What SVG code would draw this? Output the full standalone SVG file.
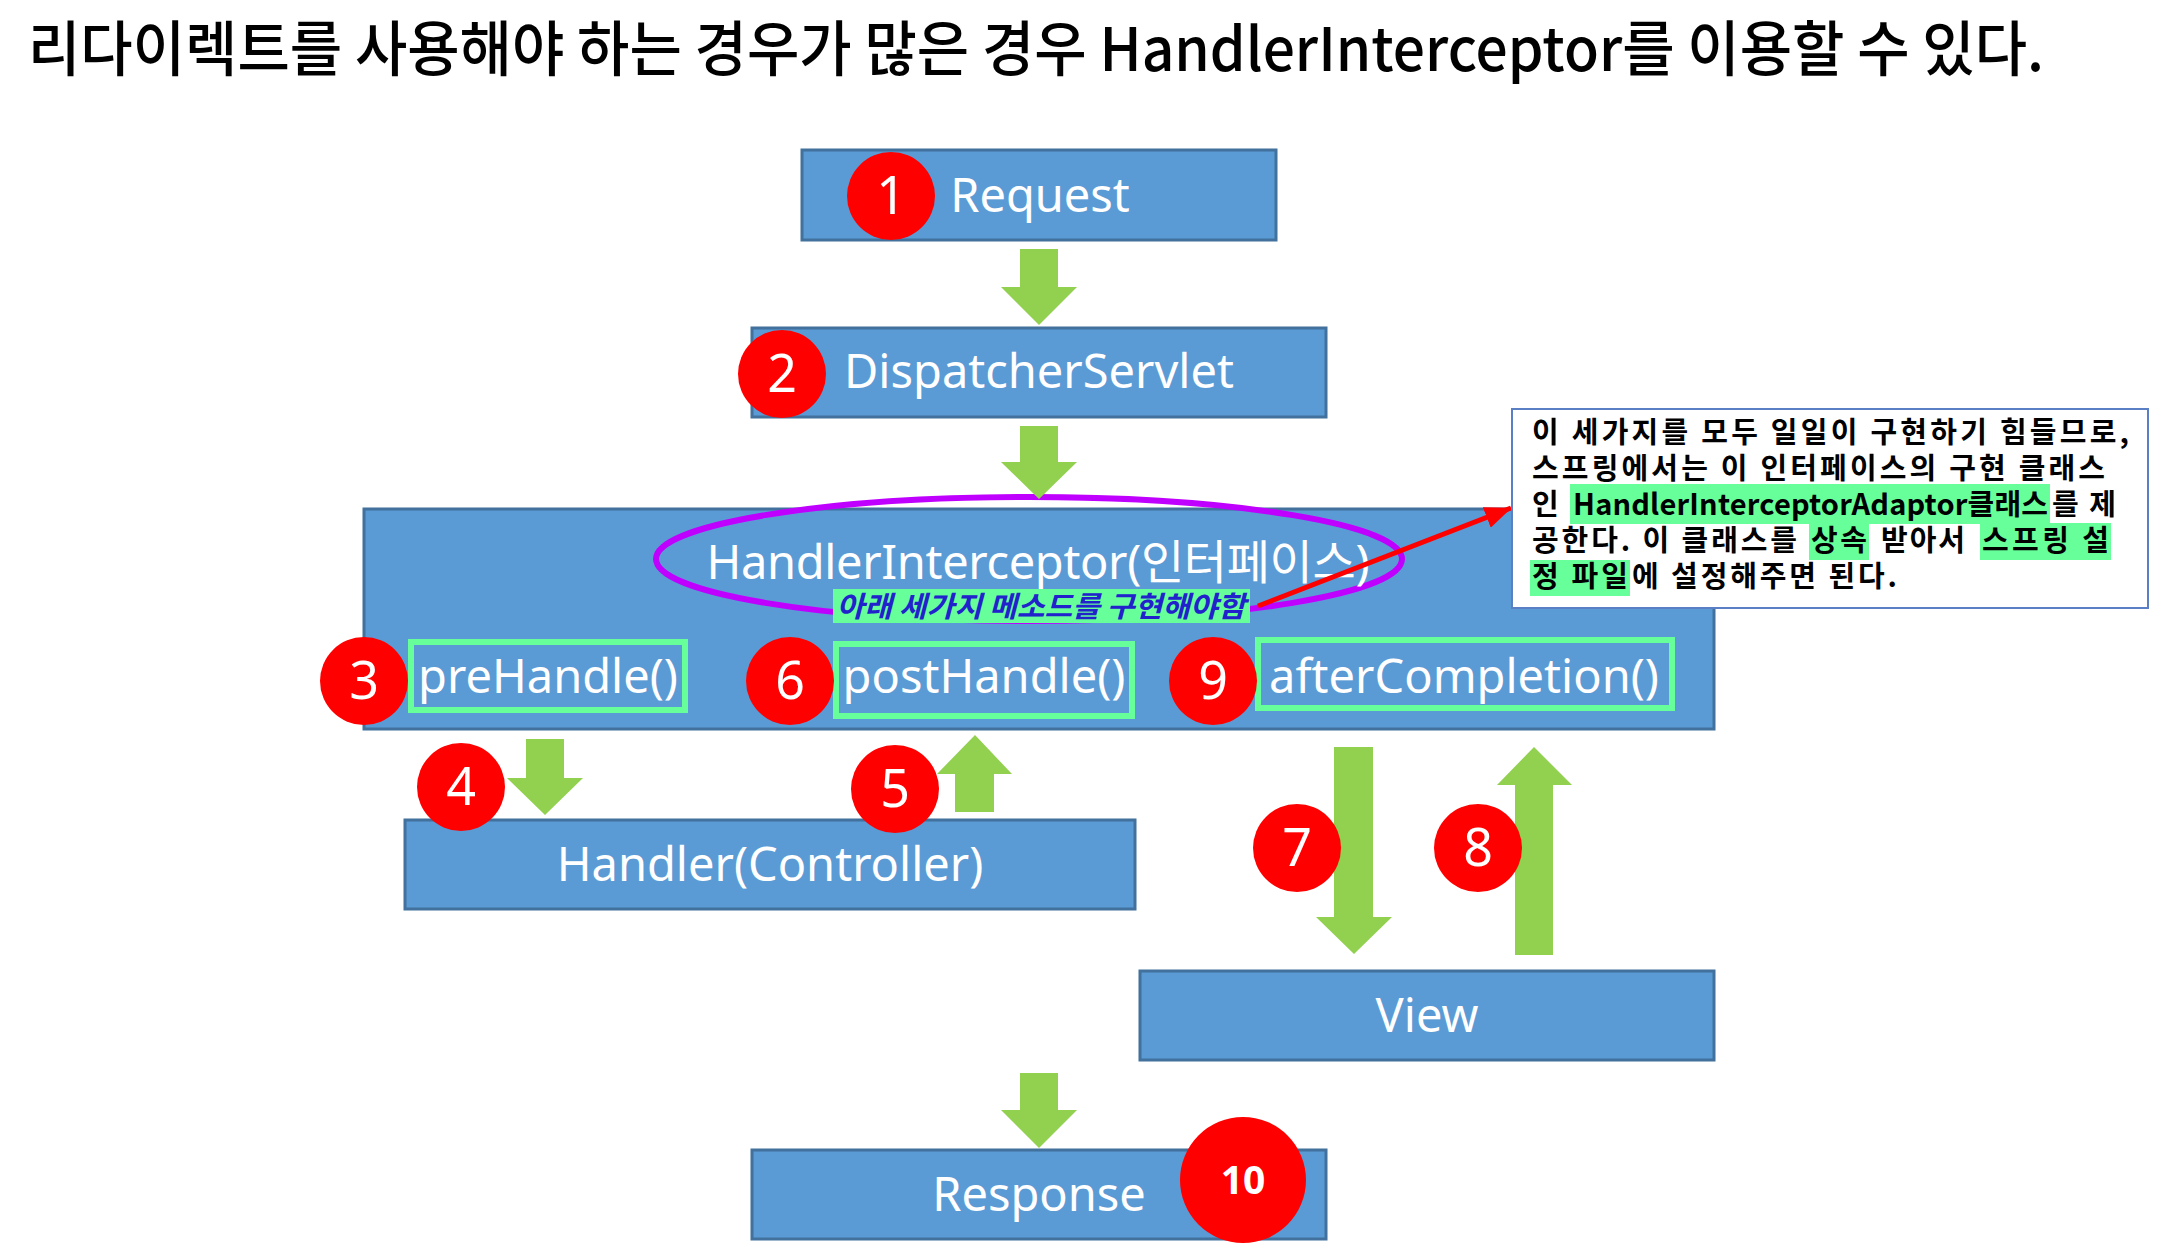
<svg xmlns="http://www.w3.org/2000/svg" width="2166" height="1255" viewBox="0 0 2166 1255">
<defs>
<style>
.box{fill:#5b9bd5;stroke:#41719c;stroke-width:3}
.lbl{fill:#fff;font-family:"Noto Sans","Noto Sans CJK KR",sans-serif;font-size:47px;text-anchor:middle}
.mbox{fill:none;stroke:#66ff99;stroke-width:6}
.badge{fill:#ff0000}
.num{fill:#fff;font-family:"Noto Sans",sans-serif;font-size:52px;text-anchor:middle}
.garrow{fill:#92d050}
.note{font-family:"Noto Sans CJK KR","Noto Sans",sans-serif;font-size:29px;font-weight:bold;fill:#000}
.hl{fill:#66ff99}
</style>
<marker id="redhead" markerWidth="28" markerHeight="22" refX="26" refY="11" orient="auto" markerUnits="userSpaceOnUse">
<path d="M0,0 L27,11 L0,22 z" fill="#ff0000"/>
</marker>
</defs>
<rect width="2166" height="1255" fill="#fff"/>

<text x="28" y="71" font-family="'Noto Sans CJK KR','Noto Sans',sans-serif" font-size="60" font-weight="500" fill="#000" textLength="2016" lengthAdjust="spacingAndGlyphs">리다이렉트를 사용해야 하는 경우가 많은 경우 HandlerInterceptor를 이용할 수 있다.</text>

<g id="request">
<rect class="box" x="802" y="150" width="474" height="90"/>
<text class="lbl" x="1040" y="212">Request</text>
</g>
<g id="dispatcher">
<rect class="box" x="752" y="328" width="574" height="89"/>
<text class="lbl" x="1039" y="388">DispatcherServlet</text>
</g>
<g id="interceptor">
<rect class="box" x="364" y="509" width="1350" height="220"/>
<ellipse cx="1029" cy="559" rx="373" ry="62" fill="none" stroke="#c000ff" stroke-width="6"/>
<text class="lbl" x="1038" y="579" textLength="663">HandlerInterceptor(인터페이스)</text>
<rect class="hl" x="833" y="589" width="417" height="34"/>
<text x="1041" y="617" text-anchor="middle" font-family="'Noto Sans CJK KR',sans-serif" font-size="29" font-weight="bold" font-style="italic" fill="#2222cc" textLength="409" lengthAdjust="spacingAndGlyphs">아래 세가지 메소드를 구현해야함</text>
</g>
<g id="prehandle">
<rect class="mbox" x="411" y="642" width="274" height="68"/>
<text class="lbl" x="548" y="693">preHandle()</text>
</g>
<g id="posthandle">
<rect class="mbox" x="836" y="644" width="296" height="72"/>
<text class="lbl" x="984" y="693">postHandle()</text>
</g>
<g id="aftercompletion">
<rect class="mbox" x="1258" y="640" width="414" height="68"/>
<text class="lbl" x="1464" y="693">afterCompletion()</text>
</g>
<g id="handler">
<rect class="box" x="405" y="820" width="730" height="89"/>
<text class="lbl" x="770" y="881">Handler(Controller)</text>
</g>
<g id="view">
<rect class="box" x="1140" y="971" width="574" height="89"/>
<text class="lbl" x="1427" y="1032">View</text>
</g>
<g id="response">
<rect class="box" x="752" y="1150" width="574" height="89"/>
<text class="lbl" x="1039" y="1211">Response</text>
</g>

<g id="connectors">
<polygon class="garrow" points="1020,249 1058,249 1058,287 1077,287 1039,325 1001,287 1020,287"/>
<polygon class="garrow" points="1020,426 1058,426 1058,462 1077,462 1039,499 1001,462 1020,462"/>
<polygon class="garrow" points="526,739 564,739 564,778 583,778 545,815 507,778 526,778"/>
<polygon class="garrow" points="955,812 994,812 994,774 1012,774 975,735 937,774 955,774"/>
<polygon class="garrow" points="1334,747 1373,747 1373,917 1392,917 1354,954 1316,917 1334,917"/>
<polygon class="garrow" points="1515,955 1553,955 1553,785 1572,785 1534,747 1497,785 1515,785"/>
<polygon class="garrow" points="1020,1073 1058,1073 1058,1110 1077,1110 1039,1148 1001,1110 1020,1110"/>
<line x1="1258" y1="606" x2="1511" y2="508" stroke="#ff0000" stroke-width="5" marker-end="url(#redhead)"/>
</g>

<g id="badges">
<g id="b1"><circle class="badge" cx="891" cy="196" r="44"/><text class="num" x="891" y="214">1</text></g>
<g id="b2"><circle class="badge" cx="782" cy="374" r="44"/><text class="num" x="782" y="392">2</text></g>
<g id="b3"><circle class="badge" cx="364" cy="681" r="44"/><text class="num" x="364" y="699">3</text></g>
<g id="b6"><circle class="badge" cx="790" cy="681" r="44"/><text class="num" x="790" y="699">6</text></g>
<g id="b9"><circle class="badge" cx="1213" cy="681" r="44"/><text class="num" x="1213" y="699">9</text></g>
<g id="b4"><circle class="badge" cx="461" cy="787" r="44"/><text class="num" x="461" y="805">4</text></g>
<g id="b5"><circle class="badge" cx="895" cy="789" r="44"/><text class="num" x="895" y="807">5</text></g>
<g id="b7"><circle class="badge" cx="1297" cy="848" r="44"/><text class="num" x="1297" y="866">7</text></g>
<g id="b8"><circle class="badge" cx="1478" cy="848" r="44"/><text class="num" x="1478" y="866">8</text></g>
<g id="b10"><circle class="badge" cx="1243" cy="1180" r="63"/><text x="1243" y="1194" fill="#fff" font-family="'Noto Sans',sans-serif" font-size="39" font-weight="bold" text-anchor="middle">10</text></g>
</g>

<g id="note">
<rect x="1512" y="409" width="636" height="199" fill="#fff" stroke="#5b7fc4" stroke-width="2"/>
<rect class="hl" x="1570" y="484" width="480" height="40"/>
<rect class="hl" x="1809" y="523" width="60" height="37"/>
<rect class="hl" x="1980" y="523" width="131" height="37"/>
<rect class="hl" x="1530" y="560" width="100" height="36"/>
<text class="note" x="1532" y="443" textLength="597">이 세가지를 모두 일일이 구현하기 힘들므로,</text>
<text class="note" x="1532" y="479" textLength="573">스프링에서는 이 인터페이스의 구현 클래스</text>
<text class="note" x="1532" y="515">인</text>
<text class="note" x="1573" y="515" textLength="475">HandlerInterceptorAdaptor클래스</text>
<text class="note" x="2052" y="515" textLength="64">를 제</text>
<text class="note" x="1532" y="551" textLength="265">공한다. 이 클래스를</text>
<text class="note" x="1811" y="551" textLength="56">상속</text>
<text class="note" x="1881" y="551" textLength="84">받아서</text>
<text class="note" x="1982" y="551" textLength="127">스프링 설</text>
<text class="note" x="1532" y="587" textLength="96">정 파일</text>
<text class="note" x="1632" y="587" textLength="265">에 설정해주면 된다.</text>
</g>
</svg>
